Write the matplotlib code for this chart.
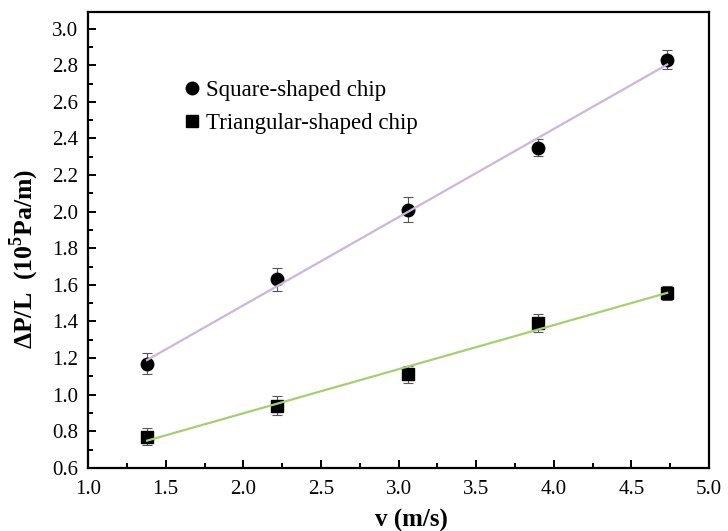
import numpy as np
import matplotlib
matplotlib.use("Agg")
import matplotlib.pyplot as plt
from matplotlib.lines import Line2D
from matplotlib.ticker import MultipleLocator, FormatStrFormatter


# flow velocity (m/s)
velocity = [1.38, 2.22, 3.06, 3.90, 4.73]

# pressure drop per length (10^5 Pa/m)
square_dp = [1.17, 1.63, 2.01, 2.35, 2.83]
square_err = [0.055, 0.063, 0.068, 0.045, 0.052]

triangle_dp = [0.77, 0.94, 1.11, 1.39, 1.555]
triangle_err = [0.048, 0.05, 0.049, 0.05, 0.038]

labels = ["Square-shaped chip", "Triangular-shaped chip"]

SERIF = ["Liberation Serif", "Noto Sans CJK SC", "DejaVu Serif"]
plt.rcParams["mathtext.fontset"] = "custom"
plt.rcParams["mathtext.rm"] = "Liberation Serif"
plt.rcParams["mathtext.bf"] = "Liberation Serif:bold"


def linear_fit(x, y):
    """Least squares line over the data range."""
    slope, intercept = np.polyfit(x, y, 1)
    xs = np.array([min(x), max(x)])
    return xs, slope * xs + intercept


fig = plt.figure(figsize=(7.28, 5.31), dpi=100)
ax = fig.add_axes([0.121, 0.119, 0.853, 0.858])

# error bars + markers
ax.errorbar(velocity, square_dp, yerr=square_err, fmt="o", color="black",
            ms=9, ecolor="#555555", elinewidth=0.8, capsize=3.5, capthick=0.8,
            zorder=3)
ax.errorbar(velocity, triangle_dp, yerr=triangle_err, fmt="s", color="black",
            ms=8, ecolor="#555555", elinewidth=0.8, capsize=3.5, capthick=0.8,
            zorder=3)

# fitted lines
fx, fy = linear_fit(velocity, square_dp)
ax.plot(fx, fy, color="#cbb6dd", lw=1.6, zorder=4)
fx, fy = linear_fit(velocity, triangle_dp)
ax.plot(fx, fy, color="#a5d06f", lw=1.6, zorder=4)

ax.set_xlim(1.0, 5.0)
ax.set_ylim(0.6, 3.09)
ax.xaxis.set_major_locator(MultipleLocator(0.5))
ax.xaxis.set_minor_locator(MultipleLocator(0.25))
ax.yaxis.set_major_locator(MultipleLocator(0.2))
ax.yaxis.set_minor_locator(MultipleLocator(0.1))
ax.xaxis.set_major_formatter(FormatStrFormatter("%.1f"))
ax.yaxis.set_major_formatter(FormatStrFormatter("%.1f"))

ax.tick_params(which="both", direction="in", width=1.4, top=False, right=False)
ax.tick_params(which="major", length=6, labelsize=15)
ax.tick_params(axis="x", which="major", pad=9)
ax.tick_params(axis="y", which="major", pad=7)
ax.tick_params(which="minor", length=3.5)
for lab in ax.get_xticklabels() + ax.get_yticklabels():
    lab.set_family(SERIF)
for sp in ax.spines.values():
    sp.set_linewidth(1.6)

ax.set_xlabel("v (m/s)", fontsize=18, fontweight="bold", family=SERIF)
ax.xaxis.set_label_coords(0.52, -0.09)
ax.set_ylabel(r"ΔP/L  (10$^{\mathbf{5}}$Pa/m) ", fontsize=18.5,
              fontweight="bold", family=SERIF)
ax.yaxis.set_label_coords(-0.076, 0.46)

handles = [
    Line2D([], [], marker="o", ls="none", color="black", ms=9),
    Line2D([], [], marker="s", ls="none", color="black", ms=8),
]
ax.legend(handles, labels, loc="upper left", bbox_to_anchor=(0.12, 0.896),
          frameon=False, prop={"family": SERIF, "size": 16.5},
          handlelength=0.8, handletextpad=0.2, labelspacing=0.5)

fig.savefig("out.png", dpi=100)
